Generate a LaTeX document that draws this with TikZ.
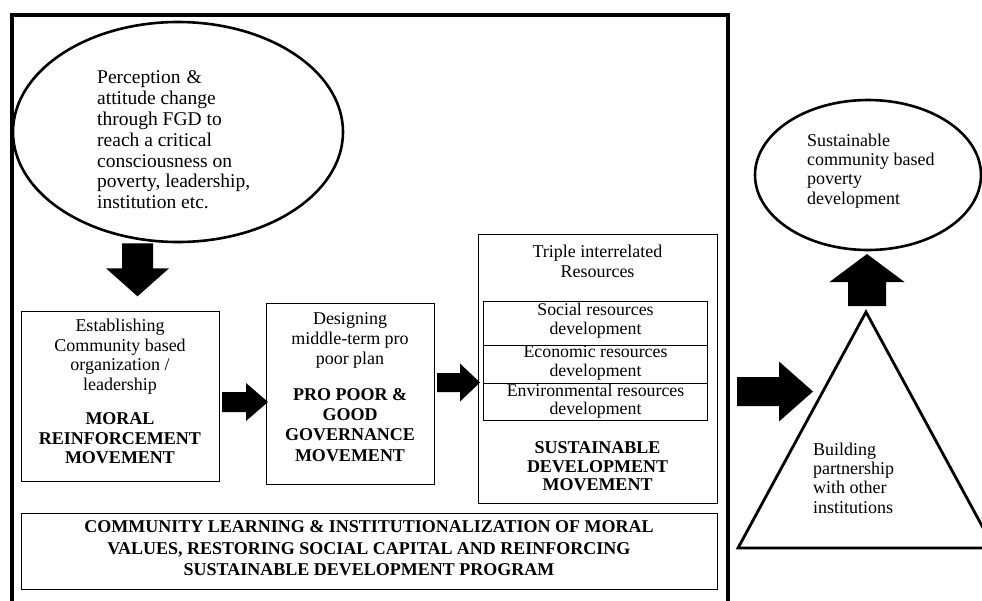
\documentclass[tikz,border=0pt]{standalone}
\usepackage{fontspec}
\setmainfont{Liberation Serif}
\usetikzlibrary{shapes.geometric}

% block arrow: #1 tail point, #2 direction angle, #3 total length,
% #4 head length, #5 shaft half width, #6 head half width
\newcommand{\blockarrow}[6]{%
  \fill[shift={#1}, rotate=#2]
    (0,-#5) -- ({#3-#4},-#5) -- ({#3-#4},-#6) -- (#3,0)
    -- ({#3-#4},#6) -- ({#3-#4},#5) -- (0,#5) -- cycle;}

\begin{document}
\begin{tikzpicture}[x=1pt,y=-1pt,
  txt/.style={inner sep=0pt, font=\fontsize{18}{19.5}\selectfont},
  plainbox/.style={draw, line width=1pt, rectangle, inner sep=0pt, anchor=north west},
  bigoval/.style={draw, ellipse, line width=2.6pt, inner sep=0pt},
  frameline/.style={line width=4pt, line join=miter}]

\clip (0,0) rectangle (982,600);
\fill[white] (0,0) rectangle (982,600);

% programme frame (open at the bottom)
\draw[frameline] (12,620) -- (12,15) -- (728,15) -- (728,620);

% awareness stage
\node[bigoval, minimum width=330pt, minimum height=220pt] (percep) at (178,132) {};
\node[txt, align=left, anchor=west, font=\fontsize{19.5}{20.8}\selectfont] (perctxt) at (97,140)
  {\spaceskip=6pt plus 2pt\relax Perception \&\\attitude change\\through FGD to\\reach a critical\\consciousness on\\poverty, leadership,\\institution etc.};

% stage boxes
\node[plainbox, minimum width=198pt, minimum height=170pt] (moral) at (21,311) {};
\node[txt, align=center] (moraltxt) at (120,391.5)
  {Establishing\\Community based\\organization /\\leadership\\[15pt]\textbf{MORAL}\\\textbf{REINFORCEMENT}\\\textbf{MOVEMENT}};

\node[plainbox, minimum width=168pt, minimum height=181pt] (propoor) at (266,303) {};
\node[txt, align=center, font=\fontsize{18}{20.2}\selectfont] (propoortxt) at (350,387)
  {Designing\\middle-term pro\\poor plan\\[15.5pt]\textbf{PRO POOR \&}\\\textbf{GOOD}\\\textbf{GOVERNANCE}\\\textbf{MOVEMENT}};

\node[plainbox, minimum width=239pt, minimum height=269pt] (sustain) at (478,234) {};
\node[txt, align=center] (tripletxt) at (597.5,261.5) {Triple interrelated\\Resources};
\node[plainbox, minimum width=224pt, minimum height=44pt] (social) at (483,301) {};
\node[plainbox, minimum width=224pt, minimum height=38pt] (economic) at (483,345) {};
\node[plainbox, minimum width=224pt, minimum height=37pt] (environ) at (483,383) {};
\node[txt, align=center, font=\fontsize{17.8}{18.5}\selectfont] at (social.center) [yshift=3pt] {Social resources\\development};
\node[txt, align=center, font=\fontsize{17.8}{18.5}\selectfont] at (economic.center) [yshift=1.5pt] {Economic resources\\development};
\node[txt, align=center, font=\fontsize{17.8}{18.5}\selectfont] at (environ.center) [yshift=1pt] {Environmental resources\\development};
\node[txt, align=center, font=\fontsize{18}{18.5}\selectfont\bfseries] (sustaintxt) at (597.5,466.5)
  {SUSTAINABLE\\DEVELOPMENT\\MOVEMENT};

\node[plainbox, minimum width=696pt, minimum height=76pt] (learning) at (21,513) {};
\node[txt, align=center, font=\fontsize{18}{21.5}\selectfont\bfseries] (learningtxt) at (369,548.5)
  {COMMUNITY LEARNING \& INSTITUTIONALIZATION OF MORAL\\VALUES, RESTORING SOCIAL CAPITAL AND REINFORCING\\SUSTAINABLE DEVELOPMENT PROGRAM};

% outcome and partnership
\node[bigoval, minimum width=226pt, minimum height=150pt] (outcome) at (868,175) {};
\node[txt, align=left, anchor=west, font=\fontsize{18}{19.3}\selectfont] (outcometxt) at (807,171)
  {Sustainable\\community based\\poverty\\development};

\coordinate (apex) at (866,312);
\coordinate (baseL) at (738,548);
\coordinate (baseR) at (994,548);
\draw[line width=2.8pt, line join=miter] (apex) -- (baseL) -- (baseR) -- cycle;
\node[txt, align=left, anchor=west, font=\fontsize{18}{19.3}\selectfont] (partnertxt) at (813,478)
  {Building\\partnership\\with other\\institutions};

% block arrows between the stages
\blockarrow{(percep.south -| 137.5,0)}{-90}{53}{28}{15.5}{31.5}
\blockarrow{(222,402)}{0}{46}{22}{10}{19}
\blockarrow{(437,382.5)}{0}{43}{20}{9.5}{19}
\blockarrow{(737,391.5)}{0}{76}{34}{14.5}{30}
\blockarrow{(867,306)}{90}{52}{28}{19}{37.5}

\end{tikzpicture}
\end{document}
